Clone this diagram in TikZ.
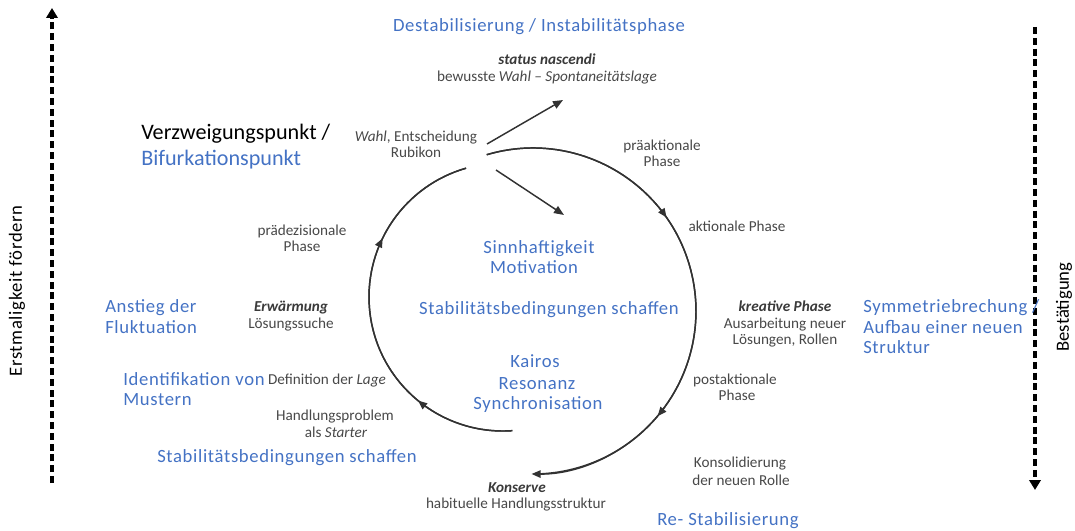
\documentclass[tikz,border=0pt]{standalone}
\usepackage{fontspec}
\setmainfont{Carlito}
\newfontfamily\bluefam[LetterSpace=3.5]{Carlito}
\usetikzlibrary{arrows.meta,decorations.markings}
\definecolor{bluet}{RGB}{68,114,196}
\definecolor{grayt}{RGB}{72,72,72}
\definecolor{arcc}{RGB}{50,50,50}
\begin{document}
\begin{tikzpicture}[x=0.75pt,y=-0.75pt,
  bl/.style={font=\bluefam\fontsize{14}{17}\selectfont, text=bluet, inner sep=0pt},
  blbig/.style={font=\fontsize{16.6}{20}\selectfont, text=bluet, inner sep=0pt},
  blk/.style={font=\fontsize{16.6}{20}\selectfont, text=black, inner sep=0pt},
  side/.style={font=\fontsize{14}{17}\selectfont, text=black, inner sep=0pt, rotate=90},
  sidesp/.style={font=\bluefam\fontsize{14}{17}\selectfont, text=black, inner sep=0pt, rotate=90},
  gr/.style={font=\fontsize{11.4}{13.7}\selectfont, text=grayt, inner sep=0pt},
  grb/.style={font=\fontsize{11.4}{13.7}\selectfont\bfseries\itshape, text=grayt!80!black, inner sep=0pt},
  dasharrow/.style={line width=2.8pt, dash pattern=on 5.3pt off 2.8pt, -{Triangle[length=7.5pt,width=8.5pt]}},
  arcline/.style={draw=arcc, line width=1.1pt},
  midtip/.style={decoration={markings, mark=at position #1 with {\arrow{Triangle[length=6.8pt,width=5.6pt]}}}, postaction={decorate}},
  straight/.style={draw=arcc, line width=1.1pt, -{Triangle[length=7.5pt,width=6pt]}}
]
\useasboundingbox (0,0) rectangle (1075,531);

% side dashed arrows
\coordinate (lbot) at (52,483);
\coordinate (ltop) at (52,8);
\coordinate (rtop) at (1035,27);
\coordinate (rbot) at (1035,490);
\draw[dasharrow] (lbot) -- (ltop);
\draw[dasharrow] (rtop) -- (rbot);
\node[sidesp] (erst) at (17,291) {Erstmaligkeit fördern};
\node[side] (best) at (1064,307) {Bestätigung};

% blue texts
\node[bl, anchor=base] (destab) at (539,32) {Destabilisierung / Instabilitätsphase};
\node[blk, anchor=base west] (verz) at (141,140) {Verzweigungspunkt /};
\node[blbig, anchor=base west] (bifu) at (141,166) {Bifurkationspunkt};
\node[bl, anchor=base] (sinn) at (539,253) {Sinnhaftigkeit};
\node[bl, anchor=base] (moti) at (534,273) {Motivation};
\node[bl, anchor=base] (stab1) at (549,314) {Stabilitätsbedingungen schaffen};
\node[bl, anchor=base] (kair) at (535,367) {Kairos};
\node[bl, anchor=base] (reso) at (537,389) {Resonanz};
\node[bl, anchor=base] (sync) at (538,409) {Synchronisation};
\node[bl, anchor=base west] (anst) at (105,312) {Anstieg der};
\node[bl, anchor=base west] (fluk) at (105,333) {Fluktuation};
\node[bl, anchor=base west] (iden) at (123,385) {Identifikation von};
\node[bl, anchor=base west] (must) at (123,405) {Mustern};
\node[bl, anchor=base west] (stab2) at (157,462) {Stabilitätsbedingungen schaffen};
\node[bl, anchor=base west] (symm) at (863,312) {Symmetriebrechung /};
\node[bl, anchor=base west] (aufb) at (863,333) {Aufbau einer neuen};
\node[bl, anchor=base west] (stru) at (863,353) {Struktur};
\node[bl, anchor=base] (restab) at (728,525) {Re- Stabilisierung};

% gray texts
\node[grb, anchor=base] (stat) at (547,65) {status nascendi};
\node[gr, anchor=base] (bewu) at (547,82) {bewusste \textit{Wahl \textendash{} Spontaneitätslage}};
\node[gr, anchor=base] (wahl) at (416,142) {\textit{Wahl}, Entscheidung};
\node[gr, anchor=base] (rubi) at (416,158) {Rubikon};
\node[gr, anchor=base] (prae) at (662,151) {präaktionale};
\node[gr, anchor=base] (praeph) at (662,167) {Phase};
\node[gr, anchor=base] (akti) at (737,232) {aktionale Phase};
\node[gr, anchor=base] (prad) at (302,236) {prädezisionale};
\node[gr, anchor=base] (pradph) at (302,252) {Phase};
\node[grb, anchor=base] (erwa) at (291,311) {Erwärmung};
\node[gr, anchor=base] (loes) at (291,328) {Lösungssuche};
\node[grb, anchor=base] (krea) at (785,311) {kreative Phase};
\node[gr, anchor=base] (ausa) at (785,328) {Ausarbeitung neuer};
\node[gr, anchor=base] (loro) at (785,344) {Lösungen, Rollen};
\node[gr, anchor=base] (defi) at (327,384) {Definition der \textit{Lage}};
\node[gr, anchor=base] (post) at (735,384) {postaktionale};
\node[gr, anchor=base] (postph) at (737,400) {Phase};
\node[gr, anchor=base] (hand) at (335,420) {Handlungsproblem};
\node[gr, anchor=base] (star) at (336,437) {als \textit{Starter}};
\node[gr, anchor=base] (kons) at (740,467) {Konsolidierung};
\node[gr, anchor=base] (rolle) at (741,485) {der neuen Rolle};
\node[grb, anchor=base] (konse) at (517,492) {Konserve};
\node[gr, anchor=base] (habi) at (516,508) {habituelle Handlungsstruktur};

% straight arrows from the decision point
\coordinate (dec1) at (487,144);
\coordinate (nasc) at (563,100);
\coordinate (dec2) at (496,170);
\coordinate (sinnp) at (564,215);
\draw[straight] (dec1) -- (nasc);
\draw[straight] (dec2) -- (sinnp);

% circle arcs
\coordinate (lc) at (503,297);
\coordinate (rc) at (533,311);
\draw[arcline, midtip=0.258] ([shift={(86:134)}]lc) arc[start angle=86, end angle=254, radius=134];
\draw[arcline, midtip=0.714] ([shift={(86:134)}]lc) arc[start angle=86, end angle=254, radius=134];
\draw[arcline, midtip=0.363, -{Triangle[length=6.8pt,width=5.6pt]}] ([shift={(-106.5:163)}]rc) arc[start angle=-106.5, end angle=90.5, radius=163];
\draw[arcline, midtip=0.754] ([shift={(-106.5:163)}]rc) arc[start angle=-106.5, end angle=88, radius=163];
\end{tikzpicture}
\end{document}
